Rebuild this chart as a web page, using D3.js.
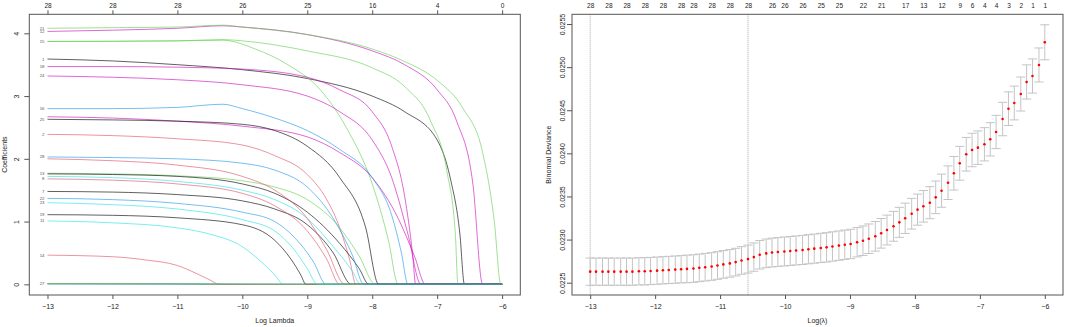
<!DOCTYPE html>
<html><head><meta charset="utf-8">
<script src="https://cdn.jsdelivr.net/npm/d3@7"></script>
<style>body{margin:0;background:#fff} text{font-family:"Liberation Sans",Arial,sans-serif}</style>
</head><body><svg id="c" width="1065" height="327"></svg>
<script>
// ---------- LEFT PANEL DATA: coefficient paths (knots: [logLambda, coefficient]) ----------
const b1  = [[-13,3.59],[-12,3.56],[-11,3.5],[-10,3.42],[-9,3.28],[-8,3.0],[-7.5,2.75],[-7,2.3],[-6.8,1.7],[-6.65,0.8],[-6.58,0]];
const b2  = [[-13,2.39],[-12,2.37],[-11,2.32],[-10,2.22],[-9.5,2.05],[-9,1.75],[-8.7,1.35],[-8.5,0.9],[-8.35,0.4],[-8.25,0]];
const b3  = [[-13,3.87],[-11,3.88],[-10.3,3.89],[-9.8,3.75],[-9.3,3.5],[-8.8,3.1],[-8.4,2.5],[-8.0,1.6],[-7.75,0.7],[-7.6,0]];
const b4  = [[-13,0.012],[-11,0.008],[-10,0]];
const b5  = [[-13,1.72],[-12,1.7],[-11,1.64],[-10,1.5],[-9.5,1.35],[-9,1.05],[-8.6,0.6],[-8.3,0.2],[-8.18,0]];
const b6  = [[-13,2.67],[-12,2.65],[-11,2.6],[-10,2.52],[-9,2.35],[-8.5,2.1],[-8,1.7],[-7.6,1.05],[-7.35,0.45],[-7.18,0]];
const b7  = [[-13,1.48],[-12,1.47],[-11,1.43],[-10,1.33],[-9.5,1.2],[-9,0.95],[-8.6,0.5],[-8.32,0]];
const b8  = [[-13,1.68],[-12,1.66],[-11,1.6],[-10,1.45],[-9.5,1.25],[-9,0.85],[-8.7,0.4],[-8.5,0]];
const b9  = [[-13,1.77],[-12,1.76],[-11,1.73],[-10,1.65],[-9.5,1.55],[-9,1.35],[-8.5,0.9],[-8.2,0.45],[-7.95,0]];
const b10 = [[-13,0.008],[-11,0.005],[-9.5,0]];
const b11 = [[-13,1.01],[-12,0.98],[-11,0.9],[-10.5,0.8],[-10,0.6],[-9.7,0.35],[-9.5,0.15],[-9.37,0]];
const b12 = [[-13,4.03],[-12,4.05],[-11,4.08],[-10.3,4.12],[-10,4.1],[-9,3.98],[-8,3.72],[-7.5,3.5],[-7,3.1],[-6.7,2.6],[-6.45,1.6],[-6.3,0]];
const b13 = [[-13,1.76],[-12,1.75],[-11,1.72],[-10,1.6],[-9.5,1.45],[-9,1.15],[-8.5,0.65],[-8.2,0.25],[-8.05,0]];
const b14 = [[-13,0.465],[-12,0.44],[-11.5,0.39],[-11,0.3],[-10.7,0.17],[-10.5,0.07],[-10.35,0]];
const b15 = [[-13,3.87],[-11,3.88],[-10.3,3.9],[-10,3.88],[-9,3.72],[-8,3.45],[-7.5,3.15],[-7.1,2.6],[-6.85,1.8],[-6.72,0.8],[-6.68,0]];
const b16 = [[-13,2.8],[-12,2.8],[-11,2.82],[-10.3,2.87],[-10,2.8],[-9.5,2.65],[-9,2.45],[-8.5,2.15],[-8,1.7],[-7.7,1.1],[-7.55,0.5],[-7.45,0]];
const b17 = [[-13,0.006],[-10,0.003],[-8.8,0]];
const b18 = [[-13,3.47],[-12,3.47],[-11,3.46],[-10,3.43],[-9,3.3],[-8.5,3.1],[-8,2.75],[-7.7,2.2],[-7.5,1.4],[-7.38,0.5],[-7.33,0]];
const b19 = [[-13,1.11],[-12,1.1],[-11,1.06],[-10,0.95],[-9.5,0.7],[-9.25,0.4],[-9.1,0.15],[-9.02,0]];
const b20 = [[-13,0.01],[-11,0.006],[-10,0]];
const b21 = [[-13,4.08],[-12,4.09],[-11,4.1],[-10.3,4.13],[-10,4.1],[-9,3.98],[-8,3.75],[-7.5,3.55],[-7,3.25],[-6.6,2.8],[-6.3,2.1],[-6.12,1.0],[-6.02,0]];
const b22 = [[-13,1.37],[-12,1.35],[-11,1.29],[-10,1.15],[-9.5,1.0],[-9.2,0.75],[-8.9,0.35],[-8.71,0]];
const b23 = [[-13,1.3],[-12,1.27],[-11,1.2],[-10,1.03],[-9.5,0.85],[-9.2,0.55],[-9.0,0.25],[-8.84,0]];
const b24 = [[-13,3.32],[-12,3.3],[-11,3.26],[-10,3.18],[-9,3.0],[-8.5,2.75],[-8,2.3],[-7.7,1.7],[-7.45,0.8],[-7.25,0]];
const b25 = [[-13,2.63],[-12,2.62],[-11,2.6],[-10,2.55],[-9.5,2.45],[-9,2.2],[-8.5,1.7],[-8.1,0.9],[-7.9,0]];
const b26 = [[-13,2.0],[-12,1.97],[-11,1.9],[-10,1.72],[-9.5,1.5],[-9,1.05],[-8.7,0.55],[-8.42,0]];
const b27 = [[-13,0.012],[-11,0.01],[-9,0]];
const b28 = [[-13,2.03],[-12,2.02],[-11,2.0],[-10,1.93],[-9.5,1.82],[-9,1.55],[-8.6,1.05],[-8.3,0.45],[-8.13,0]];
const coefPaths = [b1,b2,b3,b4,b5,b6,b7,b8,b9,b10,b11,b12,b13,b14,b15,b16,b17,b18,b19,b20,b21,b22,b23,b24,b25,b26,b27,b28];
const leftTicks = [-13,-12,-11,-10,-9,-8,-7,-6];
const leftTopLabels = [28,28,28,26,25,16,4,0];
const coefTicks = [0,1,2,3,4];

// ---------- RIGHT PANEL DATA: cross-validation curve ----------
const logLambda = [-13.00,-12.91,-12.81,-12.72,-12.63,-12.53,-12.44,-12.35,-12.25,-12.16,
 -12.07,-11.97,-11.88,-11.79,-11.69,-11.60,-11.51,-11.41,-11.32,-11.23,
 -11.13,-11.04,-10.95,-10.85,-10.76,-10.67,-10.57,-10.48,-10.39,-10.29,
 -10.20,-10.11,-10.01,-9.92,-9.83,-9.73,-9.64,-9.55,-9.45,-9.36,
 -9.27,-9.17,-9.08,-8.99,-8.89,-8.80,-8.71,-8.61,-8.52,-8.43,
 -8.33,-8.24,-8.15,-8.05,-7.96,-7.87,-7.77,-7.68,-7.59,-7.49,
 -7.40,-7.31,-7.21,-7.12,-7.03,-6.93,-6.84,-6.75,-6.65,-6.56,
 -6.47,-6.37,-6.28,-6.19,-6.09,-6.00];
const cvMean = [0.022628,0.022628,0.022628,0.022628,0.022628,0.022628,0.022628,0.022628,0.022632,0.022632,
 0.022636,0.02264,0.022644,0.022648,0.022652,0.022656,0.02266,0.022664,0.022672,0.02268,
 0.022688,0.0227,0.022712,0.022724,0.022739,0.022758,0.022774,0.022797,0.022824,0.02284,
 0.02285,0.022856,0.022862,0.022868,0.022874,0.02288,0.022888,0.022895,0.022903,0.02291,
 0.02292,0.02293,0.02294,0.022949,0.022969,0.022987,0.02301,0.023038,0.023073,0.023111,
 0.023154,0.0232,0.023247,0.0233,0.023347,0.023386,0.023428,0.02349,0.023567,0.02366,
 0.023769,0.023885,0.02399,0.024039,0.024066,0.024105,0.024163,0.024248,0.024398,0.024518,
 0.024584,0.024688,0.024828,0.024897,0.025025,0.025288];
const cvSE = [0.000158,0.000158,0.000158,0.000158,0.000158,0.000158,0.000158,0.000158,0.000158,0.000158,
 0.000158,0.000158,0.000158,0.000158,0.000158,0.000158,0.00016,0.00016,0.00016,0.00016,
 0.00016,0.00016,0.00016,0.00016,0.00016,0.00016,0.000162,0.000164,0.000165,0.000166,
 0.000167,0.000167,0.000168,0.000168,0.000168,0.000169,0.000169,0.000169,0.00017,0.00017,
 0.00017,0.00017,0.00017,0.00017,0.00017,0.000171,0.000171,0.000172,0.000172,0.000173,
 0.000173,0.000174,0.000176,0.000178,0.00018,0.000183,0.000186,0.000189,0.000192,0.000195,
 0.000195,0.000196,0.000195,0.000194,0.000194,0.000193,0.000193,0.000193,0.000194,0.000195,
 0.000196,0.000197,0.000198,0.000198,0.000197,0.000203];
const topIdx = [0,3,6,9,12,15,17,20,23,26,30,32,35,38,41,45,48,52,55,58,61,63,65,67,69,71,73,75];
const topNz  = [28,28,28,28,28,28,28,28,28,28,26,26,26,25,25,22,21,17,13,12,9,6,4,4,3,2,1,1];
const lambdaMinLog = -13.00;
const lambda1seLog = -10.57;
const devTicks = [0.0225,0.0230,0.0235,0.0240,0.0245,0.0250,0.0255];

// ---------- DRAWING ----------
const svg = d3.select("#c");
const palette = ["#000000","#DF536B","#61D04F","#2297E6","#28E2E5","#CD0BBC"];
const FS = 7;
const axisCol = "#555";

function styleAxis(g){
  g.select(".domain").remove();
  g.selectAll(".tick line").attr("stroke", axisCol);
  g.selectAll("text").attr("fill","#222").style("font-size", FS+"px").style("font-family","Liberation Sans, Arial, sans-serif");
}

// Left panel
const L = {x0:29.3, x1:520.3, y0:14.3, y1:295};
const xL = d3.scaleLinear().domain([-13.28,-5.72]).range([L.x0, L.x1]);
const yL = d3.scaleLinear().domain([-0.17, 4.303]).range([L.y1, L.y0]);

const lineL = d3.line().x(d=>xL(d[0])).y(d=>yL(d[1])).curve(d3.curveMonotoneX);
const gLines = svg.append("g");
coefPaths.forEach((p,i)=>{
  const pts = p.slice();
  if (pts[pts.length-1][0] < -6) pts.push([-6,0]);
  gLines.append("path").attr("d", lineL(pts)).attr("fill","none")
    .attr("stroke", palette[i%6]).attr("stroke-width",1).attr("stroke-opacity",0.62);
});
// variable labels at the left end; labels drawn at (almost) the same spot overprint,
// so only the last-drawn one of such a stack is kept (as it appears in the reference)
const labelPos = coefPaths.map((p,i)=>({id:i+1, y:yL(p[0][1])}));
const shown = labelPos.filter((a,k)=>!labelPos.some((b,m)=>m>k && Math.abs(b.y-a.y)<3));
svg.append("g").selectAll("text").data(shown).join("text")
  .attr("x", xL(-13)-3).attr("y", d=>d.y).attr("dy","0.35em")
  .attr("text-anchor","end").style("font-size","4.3px").attr("fill","#555").text(d=>d.id);

svg.append("rect").attr("x",L.x0).attr("y",L.y0).attr("width",L.x1-L.x0).attr("height",L.y1-L.y0)
  .attr("fill","none").attr("stroke",axisCol).attr("stroke-width",1);

const axBL = svg.append("g").attr("transform",`translate(0,${L.y1})`)
  .call(d3.axisBottom(xL).tickValues(leftTicks).tickSize(4).tickPadding(5).tickFormat(d3.format("d")));
styleAxis(axBL);
const axTL = svg.append("g").attr("transform",`translate(0,${L.y0})`)
  .call(d3.axisTop(xL).tickValues(leftTicks).tickSize(4).tickPadding(2).tickFormat((d,i)=>leftTopLabels[i]));
styleAxis(axTL);
axTL.selectAll("text").style("font-size","6.5px");
const axLL = svg.append("g").attr("transform",`translate(${L.x0},0)`)
  .call(d3.axisLeft(yL).tickValues(coefTicks).tickSize(5).tickFormat(d3.format("d")));
styleAxis(axLL);
axLL.selectAll("text").attr("x",null).attr("dy",null).attr("text-anchor","middle")
  .attr("transform","translate(-10.5,0) rotate(-90)").attr("y",0).attr("dy","0em");

svg.append("text").attr("x",(L.x0+L.x1)/2).attr("y",323).attr("text-anchor","middle")
  .style("font-size",FS+"px").attr("fill","#222").text("Log Lambda");
svg.append("text").attr("transform",`translate(7,${(L.y0+L.y1)/2}) rotate(-90)`).attr("text-anchor","middle")
  .style("font-size",FS+"px").attr("fill","#222").text("Coefficients");

// Right panel
const R = {x0:572, x1:1063, y0:14.3, y1:295};
const xR = d3.scaleLinear().domain([-13.28,-5.72]).range([R.x0, R.x1]);
const yR = d3.scaleLinear().domain([0.0223574, 0.0256126]).range([R.y1, R.y0]);
const barW = 0.07;

[lambdaMinLog, lambda1seLog].forEach(v=>{
  svg.append("line").attr("x1",xR(v)).attr("x2",xR(v)).attr("y1",R.y0).attr("y2",R.y1)
    .attr("stroke","#aaa").attr("stroke-width",1).attr("stroke-dasharray","1,1");
});

const gBars = svg.append("g").attr("stroke","#c4c4c4").attr("stroke-width",1);
logLambda.forEach((v,i)=>{
  const up = cvMean[i]+cvSE[i], lo = cvMean[i]-cvSE[i];
  gBars.append("line").attr("x1",xR(v)).attr("x2",xR(v)).attr("y1",yR(up)).attr("y2",yR(lo));
  gBars.append("line").attr("x1",xR(v-barW)).attr("x2",xR(v+barW)).attr("y1",yR(up)).attr("y2",yR(up));
  gBars.append("line").attr("x1",xR(v-barW)).attr("x2",xR(v+barW)).attr("y1",yR(lo)).attr("y2",yR(lo));
});
svg.append("g").selectAll("circle").data(logLambda).join("circle")
  .attr("cx",d=>xR(d)).attr("cy",(d,i)=>yR(cvMean[i])).attr("r",1.3).attr("fill","#ff0000");

svg.append("rect").attr("x",R.x0).attr("y",R.y0).attr("width",R.x1-R.x0).attr("height",R.y1-R.y0)
  .attr("fill","none").attr("stroke",axisCol).attr("stroke-width",1);

const axBR = svg.append("g").attr("transform",`translate(0,${R.y1})`)
  .call(d3.axisBottom(xR).tickValues(leftTicks).tickSize(4).tickPadding(5).tickFormat(d3.format("d")));
styleAxis(axBR);
const axTR = svg.append("g").attr("transform",`translate(0,${R.y0})`)
  .call(d3.axisTop(xR).tickValues(topIdx.map(i=>logLambda[i])).tickSize(0).tickPadding(6).tickFormat((d,i)=>topNz[i]));
styleAxis(axTR);
axTR.selectAll("text").style("font-size","6.5px");
const axLR = svg.append("g").attr("transform",`translate(${R.x0},0)`)
  .call(d3.axisLeft(yR).tickValues(devTicks).tickSize(5).tickFormat(d3.format(".4f")));
styleAxis(axLR);
axLR.selectAll("text").attr("x",null).attr("dy",null).attr("text-anchor","middle")
  .attr("transform","translate(-7.5,0) rotate(-90)").attr("y",0).attr("dy","0em");

svg.append("text").attr("x",(R.x0+R.x1)/2).attr("y",323).attr("text-anchor","middle")
  .style("font-size",FS+"px").attr("fill","#222").text("Log(λ)");
svg.append("text").attr("transform",`translate(551,${(R.y0+R.y1)/2}) rotate(-90)`).attr("text-anchor","middle")
  .style("font-size",FS+"px").attr("fill","#222").text("Binomial Deviance");
</script></body></html>
